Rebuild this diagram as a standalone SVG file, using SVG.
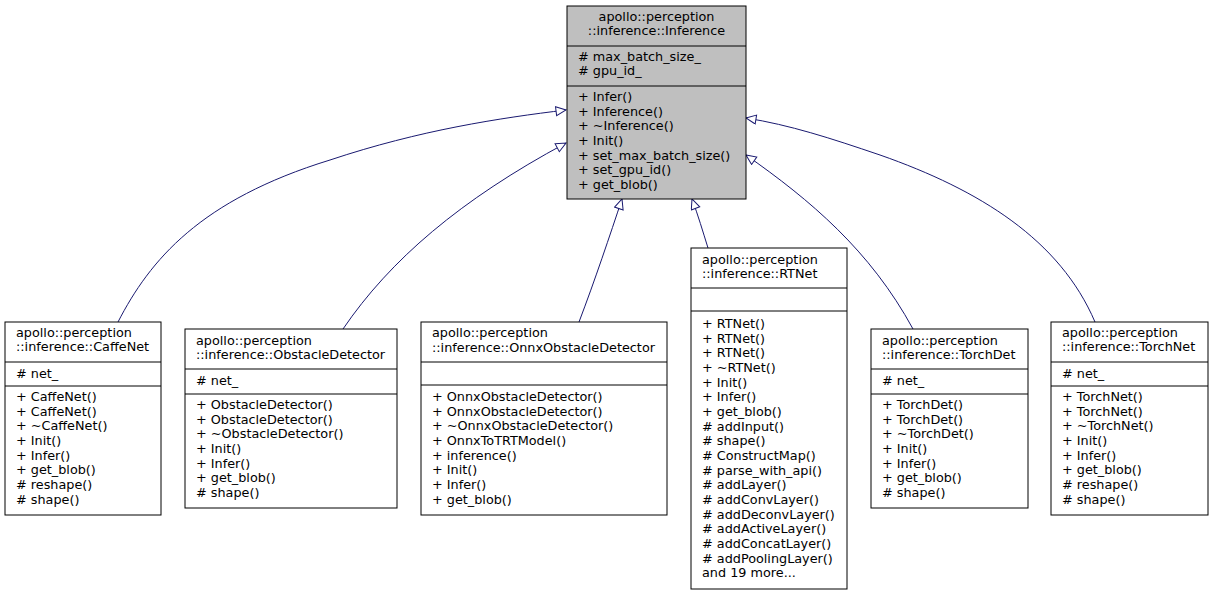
<svg xmlns="http://www.w3.org/2000/svg" width="1213" height="595" viewBox="0 0 1213 595">
<style>
text{font-family:"DejaVu Sans",sans-serif;font-size:12.8px;fill:#000}
.b{fill:#fff;stroke:#000;stroke-width:1}
.g{fill:#bfbfbf;stroke:#000;stroke-width:1}
.e{fill:none;stroke:#191970;stroke-width:1}
</style>
<defs><marker id="a" markerWidth="12" markerHeight="12" refX="11" refY="5" orient="auto" markerUnits="userSpaceOnUse"><path d="M1,0.5 L11,5 L1,9.5 Z" fill="#fff" stroke="#191970"/></marker></defs>
<g id="edges">
<path class="e" marker-end="url(#a)" d="M118,322 C150,260 200,200 330,160 C420,130 500,118 566,110"/>
<path class="e" marker-end="url(#a)" d="M343,329 C390,260 460,200 566,143"/>
<path class="e" marker-end="url(#a)" d="M579,322 C595,280 610,235 622,199"/>
<path class="e" marker-end="url(#a)" d="M708,248 C703,232 698,215 692,199"/>
<path class="e" marker-end="url(#a)" d="M913,329 C870,250 810,200 746,155"/>
<path class="e" marker-end="url(#a)" d="M1095,322 C1060,240 980,190 880,155 C830,138 790,125 746,118"/>
</g>
<g id="Inference">
<rect class="g" x="567" y="6" width="179" height="193"/>
<line x1="567" y1="46" x2="746" y2="46" stroke="#000"/><line x1="567" y1="86" x2="746" y2="86" stroke="#000"/>
<text x="656.5" y="21" text-anchor="middle">apollo::perception</text>
<text x="656.5" y="35" text-anchor="middle">::inference::Inference</text>
<text x="578" y="61">#  max_batch_size_</text><text x="578" y="75">#  gpu_id_</text>
<text x="578" y="101">+  Infer()</text><text x="578" y="116">+  Inference()</text><text x="578" y="130">+  ~Inference()</text><text x="578" y="145">+  Init()</text><text x="578" y="160">+  set_max_batch_size()</text><text x="578" y="174">+  set_gpu_id()</text><text x="578" y="189">+  get_blob()</text>
</g>
<g id="CaffeNet">
<rect class="b" x="5" y="322" width="156" height="193"/>
<line x1="5" y1="362" x2="161" y2="362" stroke="#000"/><line x1="5" y1="386" x2="161" y2="386" stroke="#000"/>
<text x="16" y="337">apollo::perception</text><text x="16" y="351">::inference::CaffeNet</text>
<text x="16" y="378">#  net_</text>
<text x="16" y="401">+  CaffeNet()</text><text x="16" y="416">+  CaffeNet()</text><text x="16" y="430">+  ~CaffeNet()</text><text x="16" y="445">+  Init()</text><text x="16" y="460">+  Infer()</text><text x="16" y="474">+  get_blob()</text><text x="16" y="489">#  reshape()</text><text x="16" y="504">#  shape()</text>
</g>
<g id="ObstacleDetector">
<rect class="b" x="185" y="329" width="212" height="179"/>
<line x1="185" y1="369" x2="397" y2="369" stroke="#000"/><line x1="185" y1="394" x2="397" y2="394" stroke="#000"/>
<text x="196" y="345">apollo::perception</text><text x="196" y="359">::inference::ObstacleDetector</text>
<text x="196" y="385">#  net_</text>
<text x="196" y="409">+  ObstacleDetector()</text><text x="196" y="424">+  ObstacleDetector()</text><text x="196" y="438">+  ~ObstacleDetector()</text><text x="196" y="453">+  Init()</text><text x="196" y="468">+  Infer()</text><text x="196" y="482">+  get_blob()</text><text x="196" y="497">#  shape()</text>
</g>
<g id="OnnxObstacleDetector">
<rect class="b" x="421" y="322" width="246" height="193"/>
<line x1="421" y1="362" x2="667" y2="362" stroke="#000"/><line x1="421" y1="385" x2="667" y2="385" stroke="#000"/>
<text x="432" y="337">apollo::perception</text><text x="432" y="352">::inference::OnnxObstacleDetector</text>
<text x="432" y="401">+  OnnxObstacleDetector()</text><text x="432" y="416">+  OnnxObstacleDetector()</text><text x="432" y="430">+  ~OnnxObstacleDetector()</text><text x="432" y="445">+  OnnxToTRTModel()</text><text x="432" y="460">+  inference()</text><text x="432" y="474">+  Init()</text><text x="432" y="489">+  Infer()</text><text x="432" y="504">+  get_blob()</text>
</g>
<g id="RTNet">
<rect class="b" x="691" y="248" width="156" height="341"/>
<line x1="691" y1="288" x2="847" y2="288" stroke="#000"/><line x1="691" y1="311" x2="847" y2="311" stroke="#000"/>
<text x="702" y="264">apollo::perception</text><text x="702" y="278">::inference::RTNet</text>
<text x="702" y="328">+  RTNet()</text><text x="702" y="343">+  RTNet()</text><text x="702" y="357">+  RTNet()</text><text x="702" y="372">+  ~RTNet()</text><text x="702" y="387">+  Init()</text><text x="702" y="401">+  Infer()</text><text x="702" y="416">+  get_blob()</text><text x="702" y="431">#  addInput()</text><text x="702" y="445">#  shape()</text><text x="702" y="460">#  ConstructMap()</text><text x="702" y="475">#  parse_with_api()</text><text x="702" y="489">#  addLayer()</text><text x="702" y="504">#  addConvLayer()</text><text x="702" y="519">#  addDeconvLayer()</text><text x="702" y="533">#  addActiveLayer()</text><text x="702" y="548">#  addConcatLayer()</text><text x="702" y="563">#  addPoolingLayer()</text><text x="702" y="577">and 19 more...</text>
</g>
<g id="TorchDet">
<rect class="b" x="871" y="329" width="157" height="179"/>
<line x1="871" y1="369" x2="1028" y2="369" stroke="#000"/><line x1="871" y1="394" x2="1028" y2="394" stroke="#000"/>
<text x="882" y="345">apollo::perception</text><text x="882" y="359">::inference::TorchDet</text>
<text x="882" y="385">#  net_</text>
<text x="882" y="409">+  TorchDet()</text><text x="882" y="424">+  TorchDet()</text><text x="882" y="438">+  ~TorchDet()</text><text x="882" y="453">+  Init()</text><text x="882" y="468">+  Infer()</text><text x="882" y="482">+  get_blob()</text><text x="882" y="497">#  shape()</text>
</g>
<g id="TorchNet">
<rect class="b" x="1051" y="322" width="157" height="193"/>
<line x1="1051" y1="362" x2="1208" y2="362" stroke="#000"/><line x1="1051" y1="386" x2="1208" y2="386" stroke="#000"/>
<text x="1062" y="337">apollo::perception</text><text x="1062" y="351">::inference::TorchNet</text>
<text x="1062" y="378">#  net_</text>
<text x="1062" y="401">+  TorchNet()</text><text x="1062" y="416">+  TorchNet()</text><text x="1062" y="430">+  ~TorchNet()</text><text x="1062" y="445">+  Init()</text><text x="1062" y="460">+  Infer()</text><text x="1062" y="474">+  get_blob()</text><text x="1062" y="489">#  reshape()</text><text x="1062" y="504">#  shape()</text>
</g>
</svg>
